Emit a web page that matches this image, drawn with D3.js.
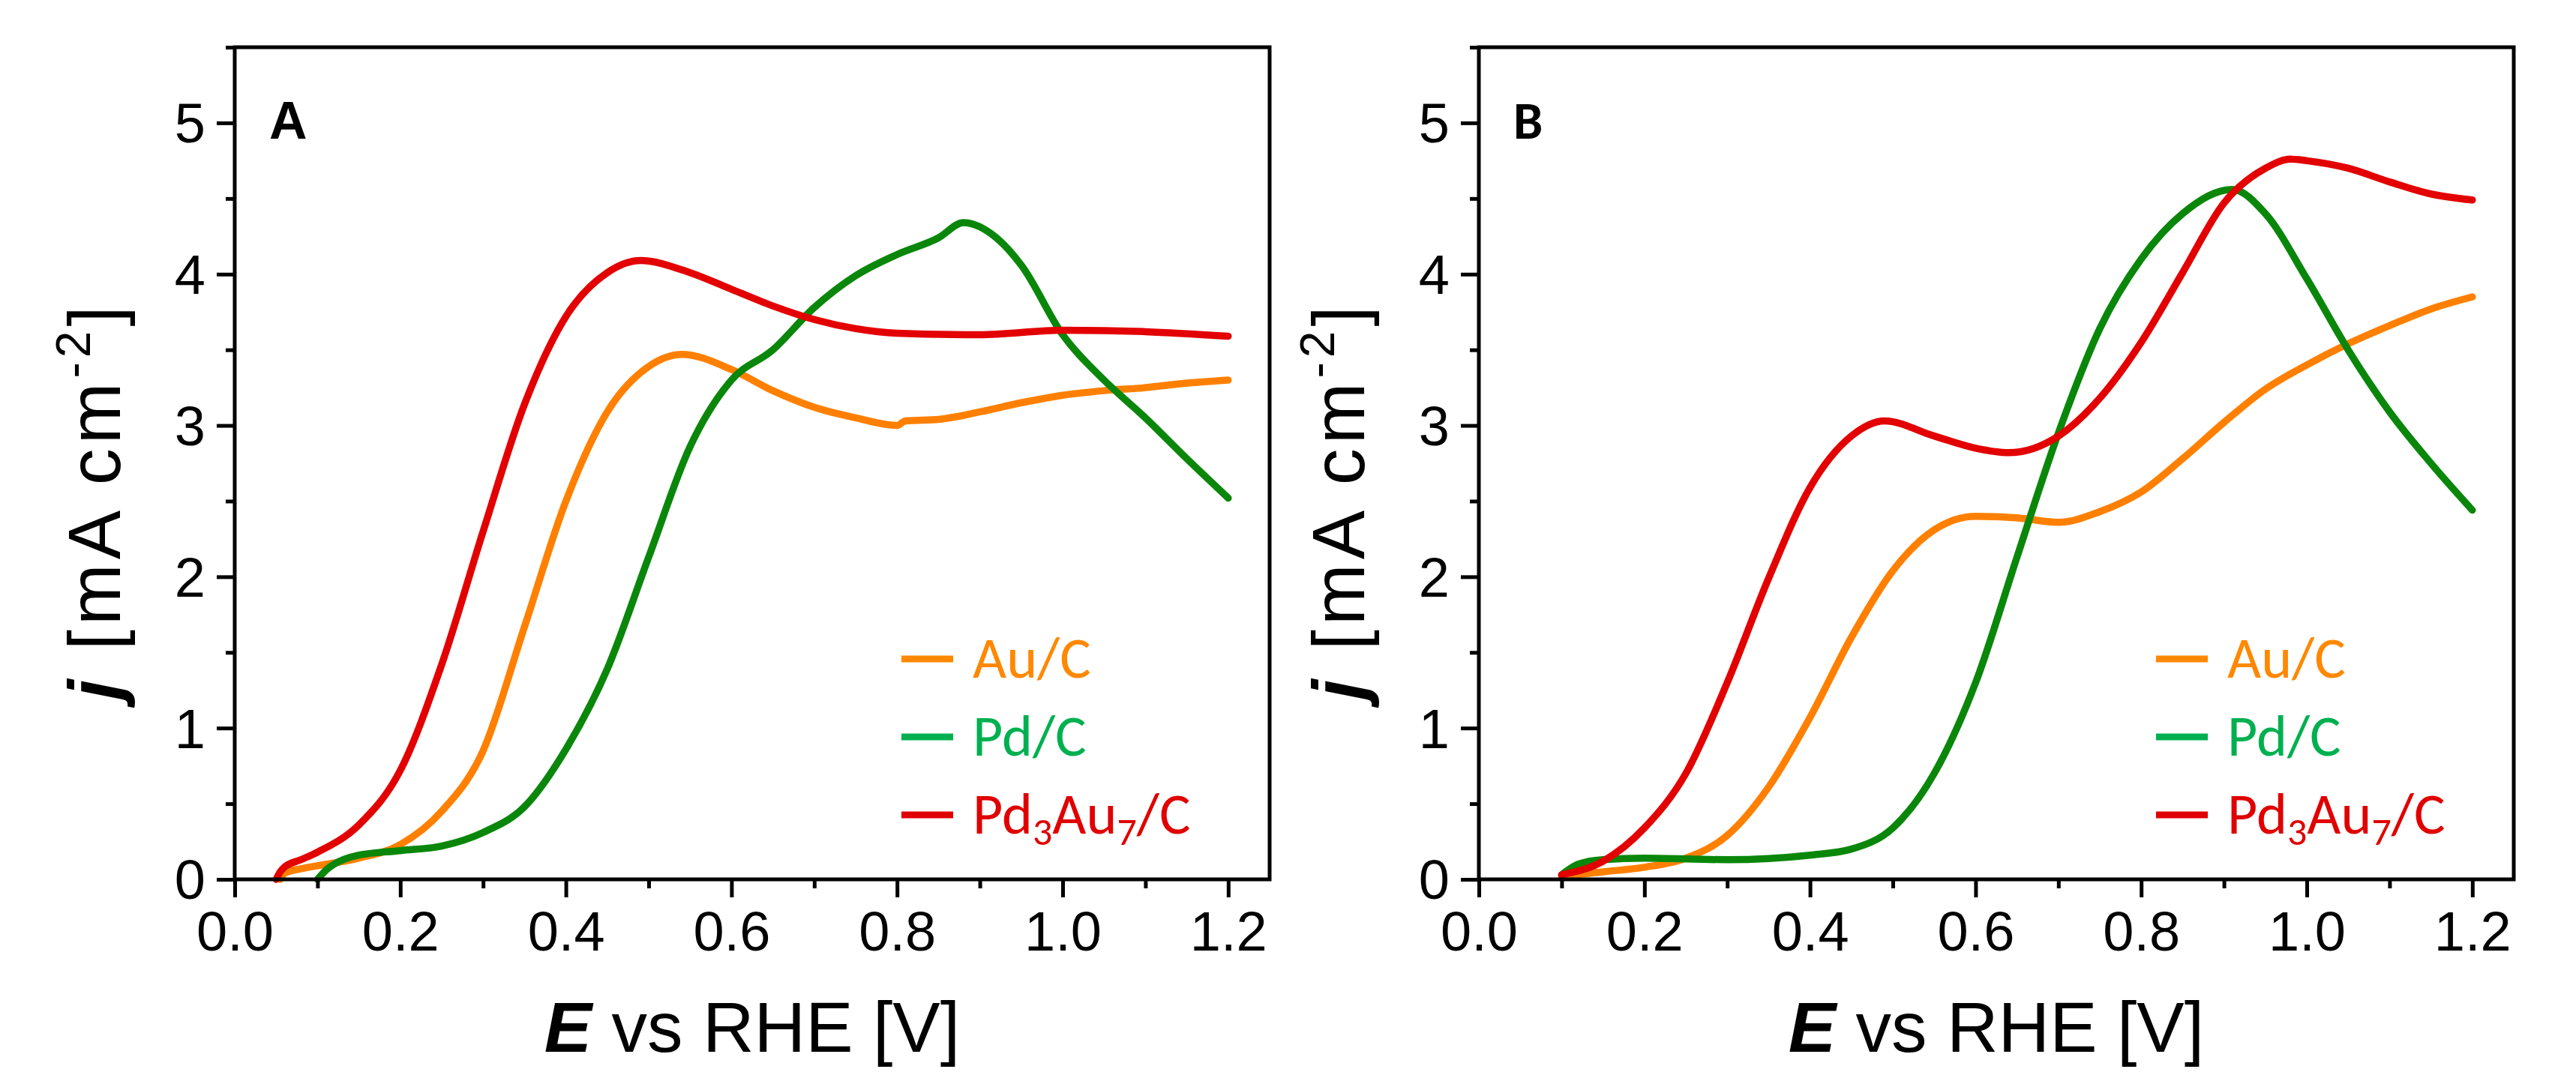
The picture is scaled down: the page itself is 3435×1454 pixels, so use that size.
<!DOCTYPE html>
<html>
<head>
<meta charset="utf-8">
<script src="https://cdn.jsdelivr.net/npm/d3@7"></script>
<style>
  html, body { margin: 0; padding: 0; background: #fff; }
  svg { display: block; }
</style>
</head>
<body>
<svg id="chart" width="3435" height="1454"></svg>
<script>
// ---------- data ----------
const seriesNames = ["Au/C", "Pd/C", "Pd3Au7/C"];
const xMajorTicks = [0.0, 0.2, 0.4, 0.6, 0.8, 1.0, 1.2];
const xMinorTicks = [0.1, 0.3, 0.5, 0.7, 0.9, 1.1];
const yMajorTicks = [0, 1, 2, 3, 4, 5];
const yMinorTicks = [0.5, 1.5, 2.5, 3.5, 4.5, 5.5];

// Panel A
const A_Au_E   = [0.055,0.06,0.08,0.10,0.15,0.20,0.25,0.30,0.35,0.40,0.45,0.50,0.54,0.60,0.65,0.70,0.75,0.80,0.81,0.85,0.90,0.95,1.00,1.05,1.10,1.15,1.20];
const A_Au_J   = [0.00,0.04,0.07,0.09,0.14,0.23,0.45,0.85,1.67,2.50,3.09,3.39,3.47,3.37,3.23,3.12,3.05,3.00,3.03,3.04,3.09,3.15,3.20,3.23,3.25,3.28,3.30];
const A_Pd_E   = [0.10,0.11,0.12,0.15,0.20,0.25,0.30,0.35,0.40,0.45,0.50,0.55,0.60,0.65,0.70,0.75,0.80,0.85,0.88,0.92,0.95,1.00,1.05,1.10,1.15,1.20];
const A_Pd_J   = [0.00,0.06,0.10,0.16,0.19,0.22,0.31,0.48,0.86,1.39,2.13,2.86,3.30,3.50,3.78,3.99,4.13,4.24,4.34,4.24,4.06,3.60,3.30,3.05,2.78,2.52];
const A_PdAu_E = [0.05,0.055,0.06,0.08,0.10,0.15,0.20,0.25,0.30,0.35,0.40,0.45,0.49,0.55,0.60,0.65,0.70,0.75,0.80,0.90,1.00,1.10,1.20];
const A_PdAu_J = [0.00,0.05,0.08,0.13,0.18,0.36,0.72,1.42,2.30,3.14,3.72,4.01,4.09,4.01,3.90,3.79,3.70,3.64,3.61,3.60,3.63,3.62,3.59];

// Panel B
const B_Au_E   = [0.10,0.15,0.20,0.25,0.30,0.35,0.40,0.45,0.50,0.55,0.60,0.65,0.70,0.75,0.80,0.85,0.90,0.95,1.00,1.05,1.10,1.15,1.20];
const B_Au_J   = [0.02,0.05,0.08,0.14,0.29,0.61,1.07,1.60,2.04,2.31,2.40,2.39,2.36,2.43,2.56,2.78,3.02,3.24,3.40,3.54,3.66,3.77,3.85];
const B_Pd_E   = [0.10,0.12,0.15,0.20,0.30,0.40,0.45,0.50,0.55,0.60,0.65,0.70,0.75,0.80,0.85,0.91,0.95,1.00,1.05,1.10,1.15,1.20];
const B_Pd_J   = [0.03,0.10,0.13,0.14,0.13,0.16,0.20,0.34,0.70,1.30,2.13,2.95,3.64,4.10,4.40,4.56,4.40,3.97,3.50,3.09,2.75,2.44];
const B_PdAu_E = [0.10,0.15,0.20,0.25,0.30,0.35,0.40,0.45,0.49,0.55,0.60,0.64,0.70,0.75,0.80,0.85,0.90,0.95,0.98,1.00,1.05,1.10,1.15,1.20];
const B_PdAu_J = [0.03,0.12,0.34,0.70,1.30,1.99,2.59,2.93,3.03,2.93,2.85,2.82,2.93,3.18,3.55,4.01,4.47,4.70,4.76,4.75,4.70,4.61,4.53,4.49];

// ---------- styling ----------
const lineColors   = ["#FF8000", "#0A870A", "#E30000"];
const legendColors = ["#FF8800", "#00B050", "#E00000"];
const tickFont = "'Liberation Sans', Arial, sans-serif";
const legendFont = "Carlito, Lato, 'Open Sans', sans-serif";

const panels = [
  { label: "A", left: 313,  labelFont: tickFont,
    legendDx: 0,
    series: [[A_Au_E, A_Au_J], [A_Pd_E, A_Pd_J], [A_PdAu_E, A_PdAu_J]] },
  { label: "B", left: 1972, labelFont: legendFont,
    legendDx: 14,
    series: [[B_Au_E, B_Au_J], [B_Pd_E, B_Pd_J], [B_PdAu_E, B_PdAu_J]] }
];

const plotW = 1380, plotTop = 63, plotBottom = 1173;
const svg = d3.select("#chart");

panels.forEach(p => {
  const x = d3.scaleLinear().domain([0, 1.25]).range([p.left, p.left + plotW]);
  const y = d3.scaleLinear().domain([0, 5.5]).range([plotBottom, plotTop]);
  const g = svg.append("g");

  // curves
  const line = d3.line().x(d => x(d[0])).y(d => y(d[1])).curve(d3.curveMonotoneX);
  p.series.forEach((s, i) => {
    const pts = s[0].map((e, k) => [e, s[1][k]]);
    g.append("path").datum(pts)
      .attr("d", line)
      .attr("fill", "none")
      .attr("stroke", lineColors[i])
      .attr("stroke-width", 9.5)
      .attr("stroke-linejoin", "round")
      .attr("stroke-linecap", "round");
  });

  // frame
  g.append("rect")
    .attr("x", x(0)).attr("y", y(5.5))
    .attr("width", x(1.25) - x(0)).attr("height", y(0) - y(5.5))
    .attr("fill", "none").attr("stroke", "#000").attr("stroke-width", 5);

  // axes
  const styleAxis = sel => {
    sel.select(".domain").remove();
    sel.selectAll(".tick line").attr("stroke", "#000").attr("stroke-width", 5);
  };
  const xAx = g.append("g").attr("transform", `translate(0,${plotBottom})`)
    .call(d3.axisBottom(x).tickValues(xMajorTicks).tickSize(24).tickSizeOuter(0)
      .tickFormat(d3.format(".1f")));
  styleAxis(xAx);
  xAx.selectAll(".tick text")
    .attr("y", 95).attr("dy", 0)
    .attr("font-family", tickFont).attr("font-size", 74).attr("fill", "#000");

  const xMin = g.append("g").attr("transform", `translate(0,${plotBottom})`)
    .call(d3.axisBottom(x).tickValues(xMinorTicks).tickSize(12).tickSizeOuter(0).tickFormat(""));
  styleAxis(xMin);

  const yAx = g.append("g").attr("transform", `translate(${p.left},0)`)
    .call(d3.axisLeft(y).tickValues(yMajorTicks).tickSize(24).tickPadding(15).tickSizeOuter(0)
      .tickFormat(d3.format("d")));
  styleAxis(yAx);
  yAx.selectAll(".tick text")
    .attr("font-family", tickFont).attr("font-size", 74).attr("fill", "#000").attr("dy", "0.35em");

  const yMin = g.append("g").attr("transform", `translate(${p.left},0)`)
    .call(d3.axisLeft(y).tickValues(yMinorTicks).tickSize(12).tickSizeOuter(0).tickFormat(""));
  styleAxis(yMin);

  // panel label
  g.append("text").attr("x", p.left + 46).attr("y", 185)
    .attr("font-family", p.labelFont).attr("font-weight", "bold").attr("font-size", 70)
    .text(p.label);

  // x title
  const xt = g.append("text")
    .attr("x", p.left + plotW / 2).attr("y", 1403)
    .attr("text-anchor", "middle")
    .attr("font-family", tickFont).attr("font-size", 95);
  xt.append("tspan").attr("font-weight", "bold").attr("font-style", "italic").text("E");
  xt.append("tspan").text(" vs RHE [V]");

  // y title
  const yt = g.append("text")
    .attr("transform", `translate(${p.left - 153},668) rotate(-90)`)
    .attr("text-anchor", "middle")
    .attr("font-family", tickFont).attr("font-size", 98)
    .attr("letter-spacing", 6);
  yt.append("tspan").attr("font-weight", "bold").attr("font-style", "italic").text("j");
  yt.append("tspan").text(" [mA cm");
  yt.append("tspan").attr("font-size", 64).attr("dy", -40).text("-2");
  yt.append("tspan").attr("dy", 40).text("]");

  // legend
  const legX = p.left + 889 + p.legendDx;
  const legY = [879, 983, 1087];
  seriesNames.forEach((name, i) => {
    g.append("line")
      .attr("x1", legX).attr("x2", legX + 69)
      .attr("y1", legY[i]).attr("y2", legY[i])
      .attr("stroke", legendColors[i]).attr("stroke-width", 9);
    const t = g.append("text")
      .attr("x", legX + 95).attr("y", legY[i] + 25)
      .attr("font-family", legendFont).attr("font-size", 78)
      .attr("fill", legendColors[i]);
    if (name === "Pd3Au7/C") {
      t.append("tspan").text("Pd");
      t.append("tspan").attr("font-size", 52).attr("dy", 15).text("3");
      t.append("tspan").attr("dy", -15).text("Au");
      t.append("tspan").attr("font-size", 52).attr("dy", 15).text("7");
      t.append("tspan").attr("dy", -15).text("/C");
    } else {
      t.text(name);
    }
  });
});
</script>
</body>
</html>
